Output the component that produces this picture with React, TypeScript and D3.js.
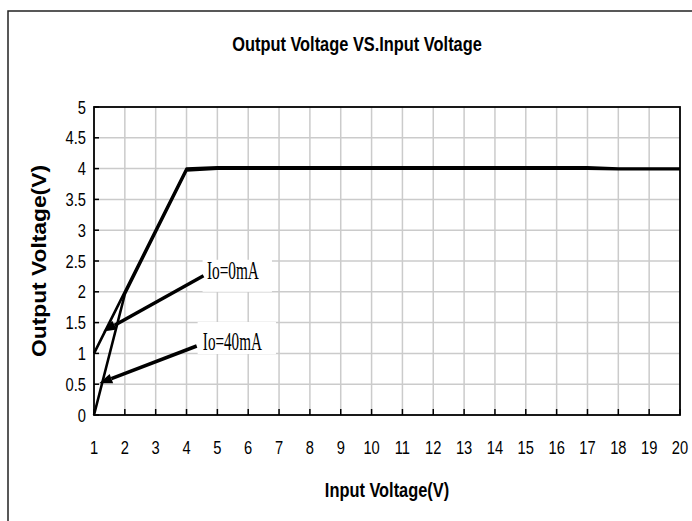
import * as d3 from "d3";
import { useEffect, useRef } from "react";

const inputVoltage = [1, 2, 3, 4, 5, 6, 7, 8, 9, 10, 11, 12, 13, 14, 15, 16, 17, 18, 19, 20];
const io0mA = [1, 2, 3, 4, 4.02, 4.02, 4.02, 4.02, 4.02, 4.02, 4.02, 4.02, 4.02, 4.02, 4.02, 4.02, 4.02, 4.0, 4.0, 4.0];
const io40mA = [0, 1.96, 2.97, 3.97, 4.0, 4.0, 4.0, 4.0, 4.0, 4.0, 4.0, 4.0, 4.0, 4.0, 4.0, 4.0, 4.0, 3.99, 3.99, 3.99];
const yTicks = [0, 0.5, 1, 1.5, 2, 2.5, 3, 3.5, 4, 4.5, 5];

// annotation: label box, text anchor and arrow, in data units
const notes = [
  { label: "Io=0mA", width: 52, box: [4.52, 6.77, 2.0, 2.52], text: [4.66, 2.21], from: [4.55, 2.26], to: [1.3, 1.355] },
  { label: "Io=40mA", width: 59, box: [4.36, 6.9, 0.99, 1.51], text: [4.53, 1.06], from: [4.33, 1.12], to: [1.17, 0.515] },
];

const W = 692;
const H = 521;
const plot = { left: 94, right: 680, top: 107, bottom: 415 };
const sans = "'Liberation Sans', Arial, sans-serif";

const App = () => {
  const svgRef = useRef(null);

  useEffect(() => {
    const svg = d3.select(svgRef.current);
    svg.selectAll("*").remove();

    const x = d3.scaleLinear().domain([1, 20]).range([plot.left, plot.right]);
    const y = d3.scaleLinear().domain([0, 5]).range([plot.bottom, plot.top]);

    // narrow text = regular sans squeezed horizontally
    const narrowText = (g, tx, ty, str, size, anchor, bold = false, sx = 0.84) =>
      g
        .append("text")
        .attr("transform", `translate(${tx},${ty}) scale(${sx},1)`)
        .attr("text-anchor", anchor)
        .attr("font-family", sans)
        .attr("font-size", size)
        .attr("font-weight", bold ? "bold" : "normal")
        .text(str);

    // outer frame
    svg
      .append("rect")
      .attr("x", 8)
      .attr("y", 11)
      .attr("width", 720)
      .attr("height", 560)
      .attr("fill", "white")
      .attr("stroke", "#222")
      .attr("stroke-width", 1.5);

    // grid
    const grid = svg.append("g").attr("stroke", "#cbcbcb").attr("stroke-width", 1.5);
    grid
      .selectAll(".vg")
      .data(inputVoltage.slice(1, -1))
      .join("line")
      .attr("x1", (d) => x(d))
      .attr("x2", (d) => x(d))
      .attr("y1", plot.top)
      .attr("y2", plot.bottom);
    grid
      .selectAll(".hg")
      .data(yTicks.slice(1, -1))
      .join("line")
      .attr("x1", plot.left)
      .attr("x2", plot.right)
      .attr("y1", (d) => y(d))
      .attr("y2", (d) => y(d));

    // inner ticks
    const ticks = svg.append("g").attr("stroke", "black").attr("stroke-width", 1.5);
    ticks
      .selectAll(".xt")
      .data(inputVoltage)
      .join("line")
      .attr("x1", (d) => x(d))
      .attr("x2", (d) => x(d))
      .attr("y1", plot.bottom)
      .attr("y2", plot.bottom - 6);
    ticks
      .selectAll(".yt")
      .data(yTicks)
      .join("line")
      .attr("x1", plot.left)
      .attr("x2", plot.left + 5)
      .attr("y1", (d) => y(d))
      .attr("y2", (d) => y(d));

    // plot border
    svg
      .append("rect")
      .attr("x", plot.left)
      .attr("y", plot.top)
      .attr("width", plot.right - plot.left)
      .attr("height", plot.bottom - plot.top)
      .attr("fill", "none")
      .attr("stroke", "black")
      .attr("stroke-width", 1.8);

    // tick labels
    const yl = svg.append("g");
    yTicks.forEach((d) => narrowText(yl, 86, y(d) + 6.5, d, 17.5, "end"));
    const xl = svg.append("g");
    inputVoltage.forEach((d) => narrowText(xl, x(d), 454, d, 17.5, "middle"));

    // titles
    narrowText(svg, 357, 51, "Output Voltage VS.Input Voltage", 20, "middle", true, 0.82);
    narrowText(svg, 387, 497, "Input Voltage(V)", 20, "middle", true, 0.82);

    svg
      .append("text")
      .attr("transform", `translate(46, ${(plot.top + plot.bottom) / 2}) rotate(-90)`)
      .attr("text-anchor", "middle")
      .attr("font-family", sans)
      .attr("font-weight", "bold")
      .attr("font-size", 21)
      .attr("textLength", 192)
      .attr("lengthAdjust", "spacingAndGlyphs")
      .text("Output Voltage(V)");

    // series
    const line = d3
      .line()
      .x((d) => x(d[0]))
      .y((d) => y(d[1]));
    [io0mA, io40mA].forEach((vals) => {
      svg
        .append("path")
        .attr("fill", "none")
        .attr("stroke", "black")
        .attr("stroke-width", 2.6)
        .attr("stroke-linejoin", "round")
        .attr("d", line(inputVoltage.map((v, i) => [v, vals[i]])));
    });

    // annotations
    notes.forEach((n) => {
      svg
        .append("rect")
        .attr("x", x(n.box[0]))
        .attr("y", y(n.box[3]))
        .attr("width", x(n.box[1]) - x(n.box[0]))
        .attr("height", y(n.box[2]) - y(n.box[3]))
        .attr("fill", "white");
      svg
        .append("text")
        .attr("x", x(n.text[0]))
        .attr("y", y(n.text[1]))
        .attr("font-family", "'Liberation Serif', 'Times New Roman', serif")
        .attr("font-size", 25.5)
        .attr("textLength", n.width)
        .attr("lengthAdjust", "spacingAndGlyphs")
        .text(n.label);

      const x1 = x(n.from[0]);
      const y1 = y(n.from[1]);
      const x2 = x(n.to[0]);
      const y2 = y(n.to[1]);
      const ang = Math.atan2(y2 - y1, x2 - x1);
      const len = 13;
      const half = 5;
      const bx = x2 - len * Math.cos(ang);
      const by = y2 - len * Math.sin(ang);
      svg
        .append("line")
        .attr("x1", x1)
        .attr("y1", y1)
        .attr("x2", bx)
        .attr("y2", by)
        .attr("stroke", "black")
        .attr("stroke-width", 3.5);
      svg
        .append("polygon")
        .attr(
          "points",
          [
            [x2, y2],
            [bx + half * Math.sin(ang), by - half * Math.cos(ang)],
            [bx - half * Math.sin(ang), by + half * Math.cos(ang)],
          ]
            .map((p) => p.join(","))
            .join(" ")
        )
        .attr("fill", "black");
    });
  }, []);

  return (
    <svg
      ref={svgRef}
      width={W}
      height={H}
      style={{ position: "absolute", left: 0, top: 0, background: "white" }}
    />
  );
};

export default App;
